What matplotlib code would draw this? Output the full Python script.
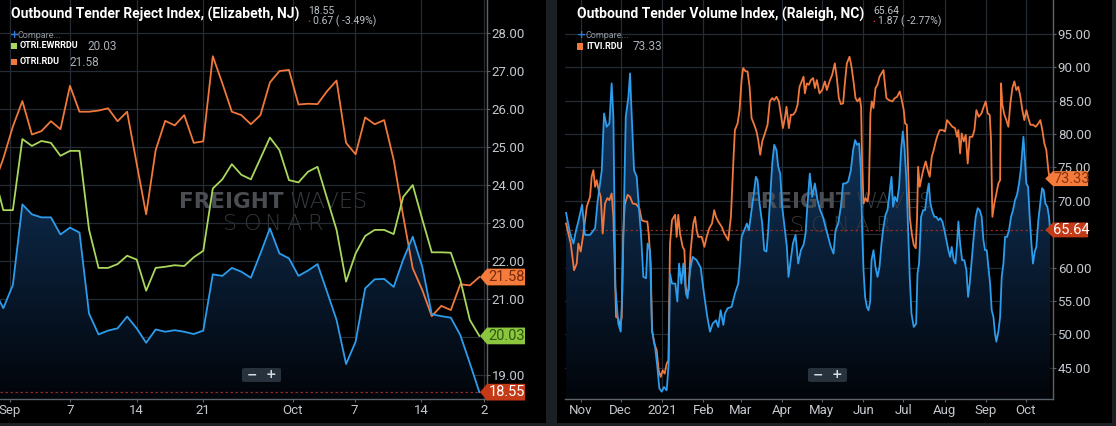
import numpy as np
import matplotlib
matplotlib.use('Agg')
import matplotlib.pyplot as plt
from matplotlib.patches import Polygon, Rectangle, FancyBboxPatch
from matplotlib.colors import LinearSegmentedColormap

W, H = 1116, 426

# ---------------- left chart: OTRI, day index (Sep 1 = 1) ----------------
sep_days = list(range(-1, 51))
otri_ewr = [21.25, 20.76, 21.37, 23.49, 23.23, 23.15, 23.15, 22.70, 22.88, 22.75,
            20.62, 20.07, 20.17, 20.23, 20.54, 20.23, 19.85, 20.20, 20.14, 20.18,
            20.14, 20.08, 20.17, 21.65, 21.61, 21.82, 21.72, 21.56, 22.20, 22.86,
            22.20, 22.07, 21.61, 21.75, 21.92, 21.19, 20.45, 19.29, 19.88, 21.28,
            21.52, 21.53, 21.32, 22.04, 22.64, 21.85, 20.60, 20.55, 20.51, 20.05,
            19.31, 18.55]
otri_ewrrdu = [24.30, 23.34, 23.34, 25.21, 25.03, 25.16, 25.11, 24.77, 24.90, 24.90,
               22.83, 21.82, 21.82, 21.92, 22.14, 22.04, 21.22, 21.82, 21.85, 21.89,
               21.87, 22.10, 22.27, 23.91, 24.15, 24.55, 24.27, 24.15, 24.70, 25.25,
               24.92, 24.13, 24.07, 24.35, 24.48, 23.65, 22.82, 21.46, 22.20, 22.66,
               22.82, 22.82, 22.71, 23.69, 24.00, 23.10, 22.23, 22.23, 22.22, 21.50,
               20.45, 20.03]
otri_rdu = [24.00, 24.70, 25.54, 26.21, 25.33, 25.42, 25.68, 25.47, 26.61, 25.93,
            25.93, 25.96, 26.02, 25.68, 25.93, 24.57, 23.23, 24.92, 25.69, 25.57,
            25.84, 25.11, 25.15, 27.39, 26.68, 25.93, 25.84, 25.60, 25.84, 26.70,
            27.00, 27.03, 26.12, 26.14, 26.13, 26.47, 26.75, 25.11, 24.81, 25.78,
            25.60, 25.71, 24.66, 23.18, 21.81, 21.24, 20.55, 20.82, 20.71, 21.39,
            21.36, 21.58]
left_tick_pos = [0.7, 7, 14, 21, 30.4, 36.9, 43.9, 50.5]
left_tick_lab = ['Sep', '7', '14', '21', 'Oct', '7', '14', '2']

# ---------------- right chart: volume indices, days since 2020-11-01 ----------------
otvi_days = [-11, -8, -5.5, -3.5, -1.8, 1, 3.2, 7, 10.8, 12.5, 15.8, 17.5, 19.5, 21.5, 23.2,
             24.5, 25.2, 26, 28.2, 30, 31.2, 32.8, 33.8, 35.8, 37, 38.2, 40, 42, 43.8, 45.2,
             47, 49, 50.2, 52, 53.5, 55.8, 57.5, 59, 60.8, 62.5, 64.5, 66, 67, 68.5, 71,
             72.5, 73.8, 75.5, 77, 79, 80.2, 82, 84, 87, 90, 92.5, 95, 97, 99, 101.5,
             103.2, 105, 107, 108.2, 110.2, 113.2, 115.7, 118.2, 119.4, 120.7, 122.7, 124.7,
             126.2, 128.2, 130.2, 131.4, 132.7, 134.2, 136.2, 137.7, 139.4, 140.7, 142.2,
             143.7, 145.2, 146.9, 148.2, 149.7, 151.2, 153.2, 154.7, 155.9, 157.2, 159.2,
             161.2, 163.2, 165.2, 167.2, 168.7, 170.2, 171.9, 173.7, 175.7, 177.7, 179.7,
             181.7, 183.7, 185.7, 187.7, 189.7, 191.2, 193.2, 195.2, 196.9, 198.7, 200.7,
             202.7, 204.4, 205.9, 207.4, 208.9, 210.2, 211.2, 212.2, 213.4, 214.7, 215.9,
             217.2, 218.2, 219.7, 221.2, 222.7, 224.2, 225.7, 227.2, 228.7, 230.2, 231.7,
             233.2, 234.4, 235.7, 237.4, 238.9, 240.4, 241.7, 242.9, 244.4, 245.7, 246.9,
             248.2, 249.9, 251.7, 252.7, 253.9, 255.4, 256.9, 258.4, 259.9, 261.2, 262.4,
             263.9, 265.4, 266.9, 268.4, 269.9, 271.4, 272.9, 274.4, 275.9, 277.2, 278.4,
             279.9, 281.2, 282.4, 283.4, 284.7, 286.2, 287.9, 289.4, 290.7, 291.9, 293.4,
             294.9, 296.4, 297.9, 299.4, 300.9, 302.2, 303.4, 304.7, 305.9, 307.2, 308.4,
             309.7, 310.9, 311.9, 313.4, 314.7, 315.9, 317.2, 318.4, 319.9, 321.4, 322.9,
             324.4, 325.9, 327.4, 328.9, 330.2, 331.4, 332.2, 333.2, 334.4, 335.7, 336.9,
             338.2, 339.4, 340.7, 341.9, 343.4, 344.7, 346.2, 347.4, 348.7, 350.2, 351.4,
             352.2]
otvi_vals = [68.2, 65.1, 63.6, 65.6, 66.9, 69.4, 64.9, 64.9, 65.9, 69.6, 74.6, 83.1, 81.1, 81.6, 87.6,
             82.6, 70.6, 57.1, 51.6, 50.4, 56.6, 73.1, 82.6, 85.6, 89.1, 83.1, 74.6, 73.6, 68.6, 65.1,
             58.6, 58.4, 63.6, 62.6, 50.6, 48.1, 45.1, 41.9, 41.4, 42.1, 41.6, 45.6, 59.1, 57.6, 57.6,
             54.9, 60.6, 57.6, 60.6, 56.1, 55.4, 59.6, 61.6, 61.1, 60.0, 56.1, 52.6, 50.4, 51.6, 52.1,
             51.1, 53.6, 51.4, 53.1, 53.9, 54.1, 56.1, 57.6, 60.6, 64.6, 65.6, 66.6,
             65.6, 68.6, 71.6, 73.6, 73.1, 69.6, 66.6, 62.6, 62.4, 65.6, 70.6,
             75.6, 78.4, 77.6, 75.1, 74.1, 69.1, 65.6, 63.1, 58.6, 60.6, 63.6,
             64.9, 60.6, 62.6, 63.4, 65.1, 69.6, 74.1, 70.6, 72.6, 70.1, 68.6,
             67.6, 66.1, 64.6, 63.1, 62.1, 65.6, 66.6, 69.1, 72.6, 72.6, 72.9,
             74.6, 77.6, 79.1, 78.4, 78.6, 74.6, 65.6, 59.6, 55.6, 54.1, 53.6,
             54.9, 61.1, 62.6, 60.1, 58.6, 60.1, 63.6, 66.1, 67.9, 68.6, 71.1,
             73.6, 69.1, 70.6, 69.9, 72.1, 77.6, 80.4, 78.1, 73.1, 65.6, 58.6,
             53.1, 51.1, 51.6, 59.1, 60.6, 67.6, 68.6, 68.6, 71.1, 72.6, 69.6,
             68.4, 67.6, 67.6, 67.1, 67.4, 66.9, 65.6, 64.1, 62.6, 61.6, 63.1,
             61.1, 60.6, 63.6, 66.9, 63.6, 61.1, 61.1, 59.6, 55.6, 57.6, 61.1,
             64.6, 67.6, 68.9, 68.6, 67.6, 64.1, 62.6, 62.6, 60.1, 57.6, 53.6,
             52.6, 50.1, 48.9, 50.4, 52.6, 58.6, 60.6, 64.6, 64.6, 65.6, 67.6,
             68.6, 70.1, 70.9, 72.6, 74.6, 77.6, 79.6, 76.6, 72.6, 72.1, 67.6,
             63.6, 60.6, 62.4, 63.1, 67.1, 69.4, 71.9, 71.6, 69.6, 69.1, 67.6,
             65.64]
itvi_days = [-11, -7.5, -5, -3, -1.8, 0, 2, 4.5, 7, 8.2, 9.5, 10.8, 12, 13.5, 15, 16.5, 18.2, 20,
             21.5, 23.2, 24.5, 25.5, 26.5, 28.2, 29.5, 30.8, 31.8, 33, 35.2, 37, 39, 41.5, 44,
             45.8, 48.2, 50, 51, 52.5, 53.5, 55.2, 57, 58.5, 60, 61.5, 63, 64.5, 65.8, 67,
             68.5, 70.8, 72, 73.2, 74.5, 76.5, 77.8, 78.8, 80, 81, 82.5, 84.5, 85.8, 87,
             88.2, 90.8, 92.8, 94.5, 96.5, 98.5, 100.2, 101.5, 103.2, 105.8, 107.8,
             110.7, 112.7, 113.7, 114.7, 115.7, 117.7, 119.2, 120.7, 121.9, 123.7, 125.2,
             126.7, 128.2, 130.2, 131.9, 133.2, 134.7, 136.2, 138.2, 140.2, 141.9, 143.7,
             145.2, 146.9, 148.7, 150.2, 151.7, 153.2, 154.4, 156.2, 157.7, 159.4, 161.2,
             162.7, 164.2, 166.2, 167.2, 168.2, 169.7, 171.2, 172.7, 174.4, 175.7, 177.2,
             179.2, 181.2, 183.2, 184.7, 186.7, 188.7, 190.7, 192.2, 193.7, 195.2, 196.9,
             198.2, 199.7, 201.7, 203.2, 204.7, 206.2, 207.7, 209.4, 210.4, 211.2, 212.2,
             213.7, 215.2, 216.2, 217.4, 218.4, 219.7, 221.2, 222.7, 224.2, 225.7, 227.2,
             228.2, 229.4, 231.2, 233.9, 235.7, 237.4, 239.4, 240.9, 242.4, 243.4, 244.7,
             245.7, 246.9, 248.4, 249.9, 251.4, 252.4, 253.2, 254.4, 255.9, 257.4, 258.9,
             260.4, 261.9, 263.4, 264.9, 266.4, 267.9, 269.4, 271.4, 273.4, 274.9, 276.9,
             278.9, 280.9, 282.4, 283.4, 284.7, 285.9, 287.4, 288.9, 290.4, 291.9, 293.9,
             295.4, 296.9, 298.7, 300.7, 302.4, 303.9, 305.4, 306.9, 307.9, 308.9, 310.4,
             311.9, 313.4, 314.7, 315.4, 316.4, 317.9, 319.4, 320.9, 322.4, 323.9, 325.4,
             326.9, 328.4, 329.9, 331.4, 332.9, 334.4, 335.9, 337.4, 339.4, 341.4, 343.4,
             344.9, 346.4, 347.9, 349.4, 350.9, 351.9]
itvi_vals = [66.6, 63.6, 59.6, 60.6, 63.6, 62.4, 65.1, 69.1, 70.6, 73.6, 74.6, 72.1, 73.1, 71.6, 70.6,
             65.1, 69.6, 70.4, 70.1, 71.1, 67.6, 60.6, 52.6, 52.4, 51.1, 52.6, 64.6, 69.4, 70.9,
             70.6, 69.6, 69.5, 68.9, 67.1, 66.9, 66.9, 65.1, 60.6, 50.6, 48.6, 47.6, 44.6, 43.6,
             44.6, 44.1, 45.6, 46.1, 63.6, 67.1, 67.9, 64.6, 67.9, 65.1, 63.1, 62.6, 57.1, 56.1,
             56.6, 62.6, 66.6, 67.6, 65.6, 64.6, 64.6, 63.1, 64.6, 65.9, 66.6, 68.6, 67.6, 66.9,
             66.1, 65.1,
             64.1, 67.6, 72.1, 76.6, 80.6, 81.6, 83.6, 88.1, 89.9, 89.4, 89.4,
             87.1, 82.4, 81.4, 80.4, 79.1, 76.9, 78.9, 80.1, 81.4, 84.9, 85.4,
             85.1, 85.6, 84.9, 82.9, 80.9, 82.4, 84.1, 80.9, 82.9, 82.9, 83.4,
             84.4, 87.1, 88.1, 88.6, 86.1, 87.6, 87.4, 88.1, 88.4, 86.9, 88.1,
             86.1, 86.6, 87.9, 86.6, 87.9, 88.9, 90.6, 88.4, 85.4, 84.5, 84.6,
             87.6, 90.6, 91.6, 90.1, 87.9, 85.4, 84.9, 85.4, 84.1, 75.1, 69.6,
             70.4, 69.9, 71.1, 83.1, 84.9, 83.9, 86.9, 87.4, 88.6, 89.1, 89.6,
             87.6, 85.4, 85.1, 84.9, 85.4, 85.6, 86.4, 85.1, 83.6, 81.6, 81.4,
             74.6, 67.6, 65.1, 63.4, 62.9, 67.6, 75.1, 72.1, 73.6, 74.9, 75.9,
             74.6, 73.6, 76.6, 77.6, 78.9, 79.9, 80.6, 80.6, 80.4, 82.1, 81.6,
             81.1, 80.9, 79.6, 80.6, 77.1, 80.1, 78.9, 79.9, 75.6, 79.6, 79.6,
             80.6, 83.6, 82.6, 83.1, 84.1, 84.9, 83.1, 82.9, 79.1, 67.6, 69.6,
             71.1, 72.6, 73.1, 87.6, 84.4, 82.9, 82.1, 81.1, 84.6, 86.9, 87.9,
             86.6, 87.1, 85.6, 83.6, 82.1, 83.6, 82.4, 81.4, 81.4, 81.1, 81.6,
             82.1, 80.6, 78.6, 77.6, 74.6, 73.33]
right_tick_pos = [0, 30, 61, 92, 120, 151, 181, 212, 242, 273, 304, 334]
right_tick_lab = ['Nov', 'Dec', '2021', 'Feb', 'Mar', 'Apr', 'May', 'Jun', 'Jul', 'Aug', 'Sep', 'Oct']

BLUE = '#2c9cec'
ORANGE = '#f0783c'
GREEN = '#a9d85c'
GRID = '#242b32'
TICK_TXT = '#c3c9cf'
SPINE = '#5b646c'
NARROW = ['Liberation Sans Narrow', 'Roboto', 'DejaVu Sans']
ROBOTO = ['Roboto', 'DejaVu Sans']

fig = plt.figure(figsize=(W / 100, H / 100), dpi=100, facecolor='#1b2025')


def fx(x):
    return x / W


def fy(y):
    return 1 - y / H


# panel backgrounds
fig.add_artist(Rectangle((0, fy(423)), fx(546), fy(0) - fy(423), transform=fig.transFigure,
                         facecolor='#000000', edgecolor='none', zorder=-2))
fig.add_artist(Rectangle((fx(557), fy(423)), fx(1112) - fx(557), fy(0) - fy(423),
                         transform=fig.transFigure, facecolor='#000000', edgecolor='none', zorder=-2))


def gradient_fill(ax, x, y, ymin, ymax):
    verts = [(x[0], ymin)] + list(zip(x, y)) + [(x[-1], ymin)]
    poly = Polygon(verts, facecolor='none', edgecolor='none')
    ax.add_patch(poly)
    cmap = LinearSegmentedColormap.from_list('fill', ['#02050a', '#0d2847', '#18467a'])
    grad = np.linspace(1, 0, 256).reshape(-1, 1)
    im = ax.imshow(grad, aspect='auto', cmap=cmap, origin='upper',
                   extent=[min(x), max(x), ymin, ymax], zorder=1)
    im.set_clip_path(poly)


def value_tag(ax, y, h, tip, end, text, bg, fg):
    tr = ax.get_yaxis_transform()
    verts = [(tip, y), (1.0, y + h), (end, y + h), (end, y - h), (1.0, y - h)]
    ax.add_patch(Polygon(verts, closed=True, facecolor=bg, edgecolor='none',
                         transform=tr, clip_on=False, zorder=6))
    ax.text((1.0 + end) / 2 + 0.002, y, text, transform=tr, ha='center', va='center',
            color=fg, fontsize=10.5, family=ROBOTO, zorder=7, clip_on=False)


def style_axes(ax, xlim, ylim, xticks, xlabels, yticks, hidden=()):
    ax.set_facecolor('#000000')
    ax.set_xlim(*xlim)
    ax.set_ylim(*ylim)
    ax.set_xticks(xticks)
    ax.set_xticklabels(xlabels)
    ax.set_yticks(yticks)
    # labels that sit fully under a value tag are not shown in the original
    ax.set_yticklabels(['' if v in hidden else f'{v:.2f}' for v in yticks])
    ax.yaxis.tick_right()
    for s in ['top', 'left']:
        ax.spines[s].set_visible(False)
    for s in ['bottom', 'right']:
        ax.spines[s].set_color(SPINE)
        ax.spines[s].set_linewidth(1.0)
    ax.tick_params(axis='both', colors=SPINE, labelcolor=TICK_TXT, labelsize=9.5,
                   length=2, width=0.8, pad=1.5)
    for lab in ax.get_xticklabels() + ax.get_yticklabels():
        lab.set_family(ROBOTO)
    ax.grid(True, color=GRID, linewidth=0.9)
    ax.set_axisbelow(True)


def watermark(ax, x0, xw, y0, xs0, xs1, ys):
    ax.text(x0, y0, 'FREIGHT', transform=ax.transAxes, ha='left', va='center',
            fontsize=15.5, fontweight='heavy', color='#4a4e53', family=['DejaVu Sans'], zorder=1.5)
    ax.text(xw, y0, 'WAVES', transform=ax.transAxes, ha='left', va='center',
            fontsize=16, fontweight='light', color='#383c41', family=['DejaVu Sans'], zorder=1.5)
    letters = 'SONAR'
    for i, ch in enumerate(letters):
        xx = xs0 + (xs1 - xs0) * (i + 0.5) / len(letters)
        ax.text(xx, ys, ch, transform=ax.transAxes, ha='center', va='center',
                fontsize=16, fontweight='light', color='#33373b', family=['DejaVu Sans'], zorder=1.5)


# ---------------- left axes ----------------
axl = fig.add_axes([0, fy(399), fx(487), (399 - 0) / H])
gradient_fill(axl, sep_days, otri_ewr, 18.37, 28.87)
axl.plot(sep_days, otri_rdu, color=ORANGE, lw=1.3, zorder=3)
axl.plot(sep_days, otri_ewrrdu, color=GREEN, lw=1.3, zorder=3)
axl.plot(sep_days, otri_ewr, color=BLUE, lw=1.3, zorder=4)
axl.axhline(otri_ewr[-1], color='#8e2a22', lw=0.9, ls=(0, (2, 2)), zorder=2)
style_axes(axl, (-0.35, 50.8), (18.37, 28.87), left_tick_pos, left_tick_lab, list(range(19, 29)),
           hidden=(20,))
watermark(axl, 178.6 / 487, 289 / 487, (399 - 202) / 399, 220 / 487, 325 / 487, (399 - 224) / 399)
value_tag(axl, otri_rdu[-1], 0.22, 480 / 487, 525 / 487, f'{otri_rdu[-1]:.2f}', '#f47b3b', '#7a2a0a')
value_tag(axl, otri_ewrrdu[-1], 0.22, 480 / 487, 525 / 487, f'{otri_ewrrdu[-1]:.2f}', '#8cc63e', '#2f5a0e')
value_tag(axl, otri_ewr[-1], 0.22, 480 / 487, 525 / 487, f'{otri_ewr[-1]:.2f}', '#c43a16', '#ffffff')

# ---------------- right axes ----------------
axr = fig.add_axes([fx(565), fy(399), fx(1053) - fx(565), 399 / H])
gradient_fill(axr, otvi_days, otvi_vals, 40.3, 100.1)
axr.plot(itvi_days, itvi_vals, color=ORANGE, lw=1.3, zorder=3)
axr.plot(otvi_days, otvi_vals, color=BLUE, lw=1.3, zorder=4)
axr.axhline(otvi_vals[-1], color='#8e2a22', lw=0.9, ls=(0, (2, 2)), zorder=2)
style_axes(axr, (-11.8, 354.4), (40.3, 100.1), right_tick_pos, right_tick_lab, list(range(45, 100, 5)),
           hidden=(65,))
watermark(axr, 0.370, 0.596, (399 - 202) / 399, 0.454, 0.674, (399 - 226) / 399)
value_tag(axr, itvi_vals[-1], 1.12, 0.984, 1.072, f'{itvi_vals[-1]:.2f}', '#f47b3b', '#8a3310')
value_tag(axr, otvi_vals[-1], 1.12, 0.984, 1.072, f'{otvi_vals[-1]:.2f}', '#c23a17', '#ffffff')


# ---------------- headers ----------------
def header(x, title, last, change):
    fig.text(fx(x), fy(14), title, ha='left', va='center', color='white', fontsize=10,
             fontweight='bold', family=NARROW)
    tx = x + 297 if x < 500 else x + 296
    fig.text(fx(tx), fy(10.5), last, ha='left', va='center', color='#b9c0c6', fontsize=7.5, family=ROBOTO)
    fig.text(fx(tx - 1), fy(21.5), '•', ha='left', va='center', color='#e0283c', fontsize=6, family=ROBOTO)
    fig.text(fx(tx + 5), fy(21), change, ha='left', va='center', color='#b9c0c6', fontsize=7.5, family=ROBOTO)


header(11, 'Outbound Tender Reject Index, (Elizabeth, NJ)', '18.55', '0.67 ( -3.49%)')
header(577, 'Outbound Tender Volume Index, (Raleigh, NC)', '65.64', '1.87 ( -2.77%)')


def legend_row(x, y, color, name, value, vx):
    fig.add_artist(Rectangle((fx(x), fy(y + 3.3)), 6 / W, 6.5 / H, transform=fig.transFigure,
                             facecolor=color, edgecolor='none', zorder=5))
    fig.text(fx(x + 9), fy(y), name, ha='left', va='center', color='white', fontsize=6.5,
             fontweight='bold', family=NARROW)
    fig.text(fx(vx), fy(y), value, ha='left', va='center', color='#a9b0b7', fontsize=8.5, family=ROBOTO)


for x in (10, 577):
    fig.text(fx(x), fy(35.5), '+', ha='left', va='center', color='#2f7de1', fontsize=8, fontweight='bold')
    fig.text(fx(x + 8), fy(35.5), 'Compare...', ha='left', va='center', color='#8e969e', fontsize=6.5,
             family=ROBOTO)

legend_row(11, 46, GREEN, 'OTRI.EWRRDU', f'{otri_ewrrdu[-1]:.2f}', 87)
legend_row(11, 62, ORANGE, 'OTRI.RDU', f'{otri_rdu[-1]:.2f}', 69)
legend_row(577, 46.5, ORANGE, 'ITVI.RDU', f'{itvi_vals[-1]:.2f}', 633)

# zoom buttons
for bx in (242, 808):
    fig.add_artist(FancyBboxPatch((fx(bx), fy(382)), 39 / W, 14 / H, boxstyle='round,pad=0,rounding_size=0.003',
                                  transform=fig.transFigure, facecolor='#27323c', edgecolor='none', zorder=5))
    fig.add_artist(Rectangle((fx(bx + 19.5), fy(381)), 0.8 / W, 12 / H, transform=fig.transFigure,
                             facecolor='#3c4956', edgecolor='none', zorder=6))
    fig.text(fx(bx + 10), fy(375), '−', ha='center', va='center', color='#d5dbe0', fontsize=9,
             fontweight='bold', zorder=7)
    fig.text(fx(bx + 29), fy(375), '+', ha='center', va='center', color='#d5dbe0', fontsize=9,
             fontweight='bold', zorder=7)

fig.savefig('out.png', dpi=100, facecolor=fig.get_facecolor())
